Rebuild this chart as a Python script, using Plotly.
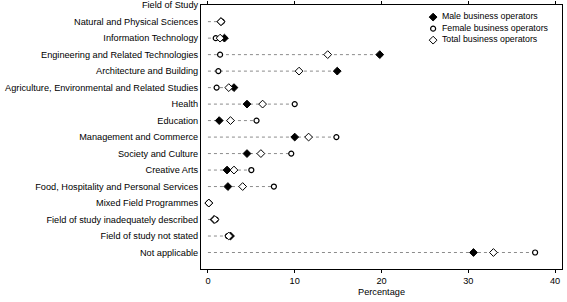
import plotly.graph_objects as go

# Fields of study, top to bottom (first entry is the axis heading)
fields = [
    "Field of Study",
    "Natural and Physical Sciences",
    "Information Technology",
    "Engineering and Related Technologies",
    "Architecture and Building",
    "Agriculture, Environmental and Related Studies",
    "Health",
    "Education",
    "Management and Commerce",
    "Society and Culture",
    "Creative Arts",
    "Food, Hospitality and Personal Services",
    "Mixed Field Programmes",
    "Field of study inadequately described",
    "Field of study not stated",
    "Not applicable",
]
rows = fields[1:]

# Percentages
male = [1.5, 1.9, 19.8, 14.9, 3.0, 4.5, 1.3, 10.0, 4.5, 2.2, 2.3, 0.1, 0.7, 2.6, 30.6]
female = [1.6, 0.9, 1.4, 1.2, 1.0, 10.0, 5.6, 14.8, 9.6, 5.0, 7.6, 0.1, 0.9, 2.3, 37.7]
total = [1.5, 1.4, 13.8, 10.5, 2.4, 6.3, 2.6, 11.6, 6.1, 3.0, 4.0, 0.1, 0.8, 2.4, 32.9]

legend_names = ["Male business operators", "Female business operators", "Total business operators"]

FONT = "Liberation Sans"

markers = [
    dict(symbol="diamond", size=6, color="black", line=dict(color="black", width=1)),
    dict(symbol="circle", size=5, color="white", line=dict(color="black", width=1.2)),
    dict(symbol="diamond", size=6, color="white", line=dict(color="black", width=1)),
]

fig = go.Figure()

# grey dashed guide from 0 out to the largest value in each row
gx, gy = [], []
for name, m, f, t in zip(rows, male, female, total):
    gx += [0, max(m, f, t), None]
    gy += [name, name, None]
fig.add_trace(go.Scatter(
    x=gx, y=gy, mode="lines", showlegend=False, hoverinfo="skip",
    line=dict(color="#8c8c8c", width=1, dash="3px,3px"),
))

for name, vals, marker in zip(legend_names, [male, female, total], markers):
    fig.add_trace(go.Scatter(x=vals, y=rows, mode="markers", name=name,
                             marker=marker, showlegend=False))

# compact legend drawn on its own small axis in the top right corner
for i, (name, marker) in enumerate(zip(legend_names, markers)):
    fig.add_trace(go.Scatter(
        x=[0], y=[i], xaxis="x3", yaxis="y3", mode="markers",
        marker=marker, showlegend=False, hoverinfo="skip", cliponaxis=False,
    ))
    fig.add_trace(go.Scatter(
        x=[0.7], y=[i], xaxis="x3", yaxis="y3", mode="text",
        text=[name], textposition="middle right", textfont=dict(size=8.8),
        showlegend=False, hoverinfo="skip", cliponaxis=False,
    ))

fig.update_layout(
    width=567, height=302,
    margin=dict(l=201, r=5, t=5, b=33, autoexpand=False),
    plot_bgcolor="white", paper_bgcolor="white",
    font=dict(family=FONT, size=9.2, color="black"),
    xaxis=dict(
        range=[-0.8, 40.8], tickvals=[0, 10, 20, 30, 40],
        ticks="outside", ticklen=3, tickcolor="black",
        showline=True, linecolor="black", linewidth=1, mirror="ticks",
        showgrid=False, zeroline=False, automargin=False,
        title=dict(text="Percentage", font=dict(size=9.2), standoff=3),
    ),
    yaxis=dict(
        type="category", categoryorder="array", categoryarray=fields,
        range=[16, -0.01], ticks="", showline=True, linecolor="black", linewidth=1,
        mirror=True, showgrid=False, zeroline=False, automargin=False,
    ),
    xaxis3=dict(domain=[0.643, 0.99], range=[0, 10], visible=False, anchor="y3"),
    yaxis3=dict(domain=[0.845, 0.976], range=[2.5, -0.5], visible=False, anchor="x3"),
)

fig.write_html("out.html", config={"displayModeBar": False},
               post_script="document.body.style.margin='0';")
